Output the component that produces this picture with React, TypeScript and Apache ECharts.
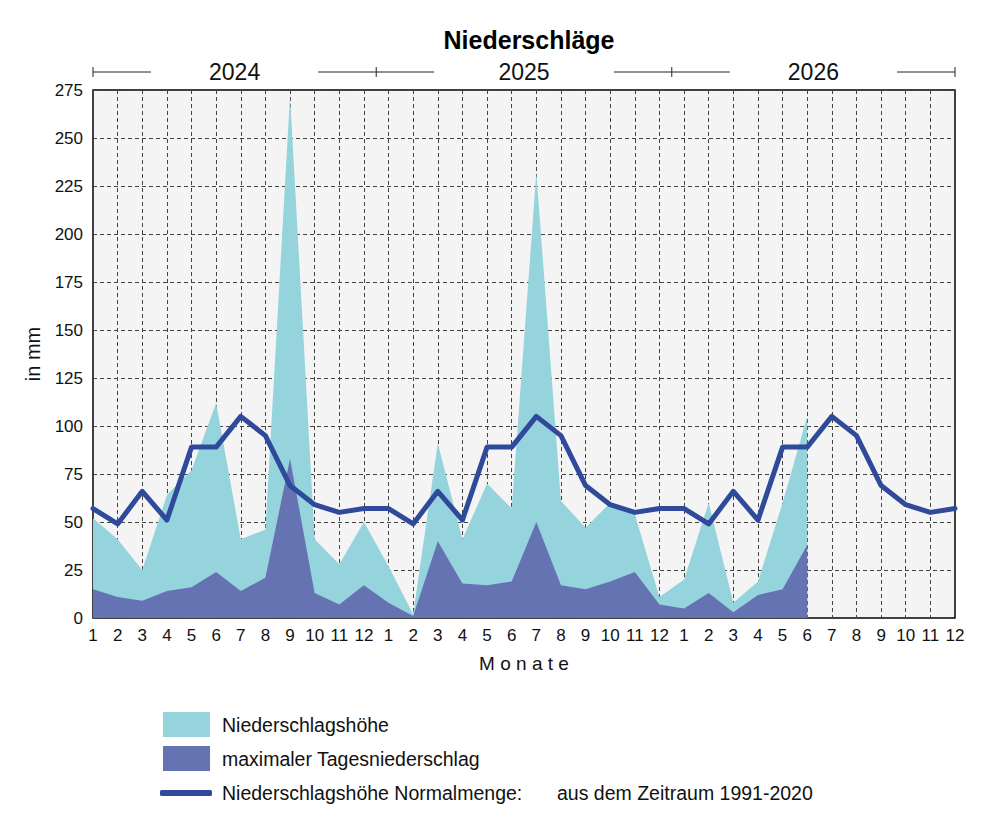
import React, { useEffect, useRef } from 'react';
import * as echarts from 'echarts';

// Monate (3 Jahre)
const months = ['1', '2', '3', '4', '5', '6', '7', '8', '9', '10', '11', '12'];
const years = ['2024', '2025', '2026'];
const categories = years.flatMap(() => months);

// Niederschlagshöhe (mm), Daten bis 6/2026
const niederschlag = [
  52, 41, 25, 64, 77, 112, 41, 46, 272, 41, 28, 50,
  27, 2, 91, 41, 70, 57, 232, 61, 47, 60, 54, 11,
  20, 60, 8, 19, 60, 105, null, null, null, null, null, null,
];

// maximaler Tagesniederschlag (mm)
const maxTag = [
  15, 11, 9, 14, 16, 24, 14, 21, 83, 13, 7, 17,
  8, 1, 40, 18, 17, 19, 50, 17, 15, 19, 24, 7,
  5, 13, 3, 12, 15, 38, null, null, null, null, null, null,
];

// Normalmenge 1991-2020 (mm), pro Monat
const normal = [57, 49, 66, 51, 89, 89, 105, 95, 69, 59, 55, 57];
const normalSeries = years.flatMap(() => normal);

const yTicks = { min: 0, max: 275, interval: 25 };

const FONT = '"Liberation Sans", Arial, sans-serif';
const TEXT = '#111';

const App: React.FC = () => {
  const chartRef = useRef<HTMLDivElement>(null);

  useEffect(() => {
    if (!chartRef.current) return;
    const chart = echarts.init(chartRef.current, undefined, { renderer: 'svg' });

    const option: echarts.EChartsOption = {
      animation: false,
      textStyle: { fontFamily: FONT },
      title: {
        text: 'Niederschläge',
        left: 524,
        textAlign: 'center',
        top: 22,
        textStyle: { fontSize: 25, fontWeight: 'bold', color: '#000', fontFamily: FONT },
      },
      grid: {
        left: 93,
        right: 45,
        top: 90,
        bottom: 220,
        show: true,
        backgroundColor: '#F4F4F4',
        borderColor: '#000',
        borderWidth: 1.5,
      },
      xAxis: {
        type: 'category',
        data: categories,
        boundaryGap: false,
        axisLine: { show: false },
        axisTick: { show: false },
        axisLabel: { interval: 0, fontSize: 17, color: TEXT, margin: 9, fontFamily: FONT },
        splitLine: {
          show: true,
          interval: 0,
          lineStyle: { color: '#444', type: [4, 3], width: 1 },
        },
        name: 'M o n a t e',
        nameLocation: 'middle',
        nameGap: 36,
        nameTextStyle: { fontSize: 19, color: TEXT, fontFamily: FONT },
      },
      yAxis: {
        type: 'value',
        min: yTicks.min,
        max: yTicks.max,
        interval: yTicks.interval,
        axisLine: { show: false },
        axisTick: { show: false },
        axisLabel: { fontSize: 17, color: TEXT, margin: 10, fontFamily: FONT },
        splitLine: {
          show: true,
          lineStyle: { color: '#444', type: [4, 3], width: 1 },
        },
        name: 'in mm',
        nameLocation: 'middle',
        nameGap: 50,
        nameTextStyle: { fontSize: 20, color: TEXT, fontFamily: FONT },
      },
      legend: [
        {
          data: ['Niederschlagshöhe', 'maximaler Tagesniederschlag'],
          orient: 'vertical',
          left: 163,
          top: 712,
          padding: 0,
          itemWidth: 47,
          itemHeight: 25,
          itemGap: 9,
          icon: 'rect',
          itemStyle: { borderWidth: 0 },
          selectedMode: false,
          textStyle: { fontSize: 19.5, color: TEXT, fontFamily: FONT, padding: [0, 0, 0, 7] },
        },
        {
          data: ['Niederschlagshöhe Normalmenge:'],
          orient: 'vertical',
          left: 160,
          top: 783,
          padding: 0,
          itemWidth: 52,
          itemHeight: 6,
          icon: 'roundRect',
          itemStyle: { borderWidth: 0 },
          selectedMode: false,
          formatter: (name: string) => `{a|${name}}{b|aus dem Zeitraum 1991-2020}`,
          textStyle: {
            fontSize: 19.5,
            color: TEXT,
            fontFamily: FONT,
            padding: [0, 0, 0, 5],
            rich: {
              a: { fontSize: 19.5, color: TEXT, fontFamily: FONT, width: 335 },
              b: { fontSize: 19.5, color: TEXT, fontFamily: FONT },
            },
          },
        },
      ],
      series: [
        {
          name: 'Niederschlagshöhe',
          type: 'line',
          data: niederschlag,
          symbol: 'none',
          color: '#96D4DD',
          lineStyle: { width: 0 },
          areaStyle: { color: '#96D4DD', opacity: 1 },
          itemStyle: { color: '#96D4DD' },
          z: 1,
        },
        {
          name: 'maximaler Tagesniederschlag',
          type: 'line',
          data: maxTag,
          symbol: 'none',
          color: '#6673B3',
          lineStyle: { width: 0 },
          areaStyle: { color: '#6673B3', opacity: 1 },
          itemStyle: { color: '#6673B3' },
          z: 2,
        },
        {
          name: 'Niederschlagshöhe Normalmenge:',
          type: 'line',
          data: normalSeries,
          symbol: 'none',
          color: '#2F4A9A',
          lineStyle: { width: 5, color: '#2F4A9A', join: 'round', cap: 'round' },
          itemStyle: { color: '#2F4A9A' },
          z: 3,
        },
      ],
    };

    chart.setOption(option);

    // Jahresklammern über dem Diagramm, aus der x-Achse berechnet
    const px = (i: number) => chart.convertToPixel({ xAxisIndex: 0 }, i) as number;
    const n = months.length;
    const bounds: number[] = [px(0)];
    for (let y = 1; y < years.length; y++) {
      bounds.push((px(y * n - 1) + px(y * n)) / 2);
    }
    bounds.push(px(categories.length - 1));

    const yLine = 72;
    const seg = 58;
    const elements: any[] = [];
    bounds.forEach((b) => {
      elements.push({
        type: 'line',
        shape: { x1: b, y1: yLine - 5, x2: b, y2: yLine + 5 },
        style: { stroke: '#222', lineWidth: 1 },
      });
    });
    years.forEach((yr, i) => {
      const a = bounds[i];
      const b = bounds[i + 1];
      elements.push({
        type: 'line',
        shape: { x1: a, y1: yLine, x2: a + seg, y2: yLine },
        style: { stroke: '#222', lineWidth: 1 },
      });
      elements.push({
        type: 'line',
        shape: { x1: b - seg, y1: yLine, x2: b, y2: yLine },
        style: { stroke: '#222', lineWidth: 1 },
      });
      elements.push({
        type: 'text',
        x: (a + b) / 2,
        y: yLine,
        style: {
          text: yr,
          fontSize: 23,
          fontFamily: FONT,
          fill: TEXT,
          align: 'center',
          verticalAlign: 'middle',
        },
      });
    });

    chart.setOption({ graphic: elements });

    const handleResize = () => chart.resize();
    window.addEventListener('resize', handleResize);
    return () => {
      window.removeEventListener('resize', handleResize);
      chart.dispose();
    };
  }, []);

  return (
    <div
      ref={chartRef}
      style={{ position: 'fixed', left: 0, top: 0, width: '1000px', height: '838px', background: '#fff' }}
    />
  );
};

export default App;
